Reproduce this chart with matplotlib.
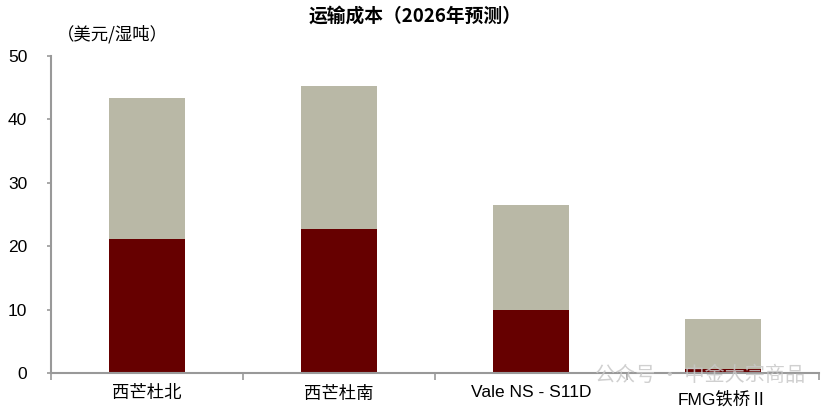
import numpy as np
import matplotlib.pyplot as plt
import matplotlib.transforms as mtransforms

plt.rcParams['font.family'] = ['Liberation Sans', 'Noto Sans CJK SC', 'DejaVu Sans']

categories = ['西芒杜北', '西芒杜南', 'Vale NS - S11D', 'FMG铁桥Ⅱ']
lower = [21.1, 22.7, 10.0, 0.6]
upper_total = [43.4, 45.3, 26.5, 8.5]
upper = [t - b for t, b in zip(upper_total, lower)]

DARK = '#660000'
LIGHT = '#B9B8A6'
AXIS = '#999999'

fig = plt.figure(figsize=(8.3, 4.13), dpi=100)
ax = fig.add_axes([0.0614, 0.0969, 0.9253, 0.7676])

x = np.arange(len(categories))
ax.bar(x, lower, width=0.4, color=DARK)
ax.bar(x, upper, width=0.4, bottom=lower, color=LIGHT)

ax.set_xlim(-0.5, len(categories) - 0.5)
ax.set_ylim(0, 50)
ax.set_yticks(range(0, 51, 10))
ax.tick_params(axis='y', labelsize=12.5, length=3, color=AXIS, width=1.2, pad=14)

# category labels centred, ticks on category boundaries
ax.set_xticks(x)
ax.set_xticklabels(categories, fontsize=12.5)
ax.tick_params(axis='x', length=0, pad=9)
ax.set_xticks(np.arange(-0.5, len(categories), 1.0), minor=True)
ax.tick_params(axis='x', which='minor', length=5, color=AXIS, width=1.2)

# last label sits a bit lower in the original
lab = ax.get_xticklabels()[-1]
lab.set_transform(lab.get_transform() + mtransforms.ScaledTranslation(0, -0.06, fig.dpi_scale_trans))

for s in ['top', 'right']:
    ax.spines[s].set_visible(False)
for s in ['left', 'bottom']:
    ax.spines[s].set_color(AXIS)
    ax.spines[s].set_linewidth(1.5)

fig.text(0.5, 0.962, '运输成本（2026年预测）', ha='center', va='center',
         fontsize=13.5, fontweight='bold', family=['Noto Sans CJK SC', 'DejaVu Sans'])
fig.text(0.068, 0.918, '（美元/湿吨）', ha='left', va='center',
         fontsize=12.5, family=['Noto Sans CJK SC', 'DejaVu Sans'])

# watermark
fig.text(0.97, 0.09, '公众号 · 中金大宗商品', ha='right', va='center',
         fontsize=14.5, color='#c8c8c8', alpha=0.85,
         family=['Noto Sans CJK SC', 'DejaVu Sans'])

fig.savefig('out.png', dpi=100)
